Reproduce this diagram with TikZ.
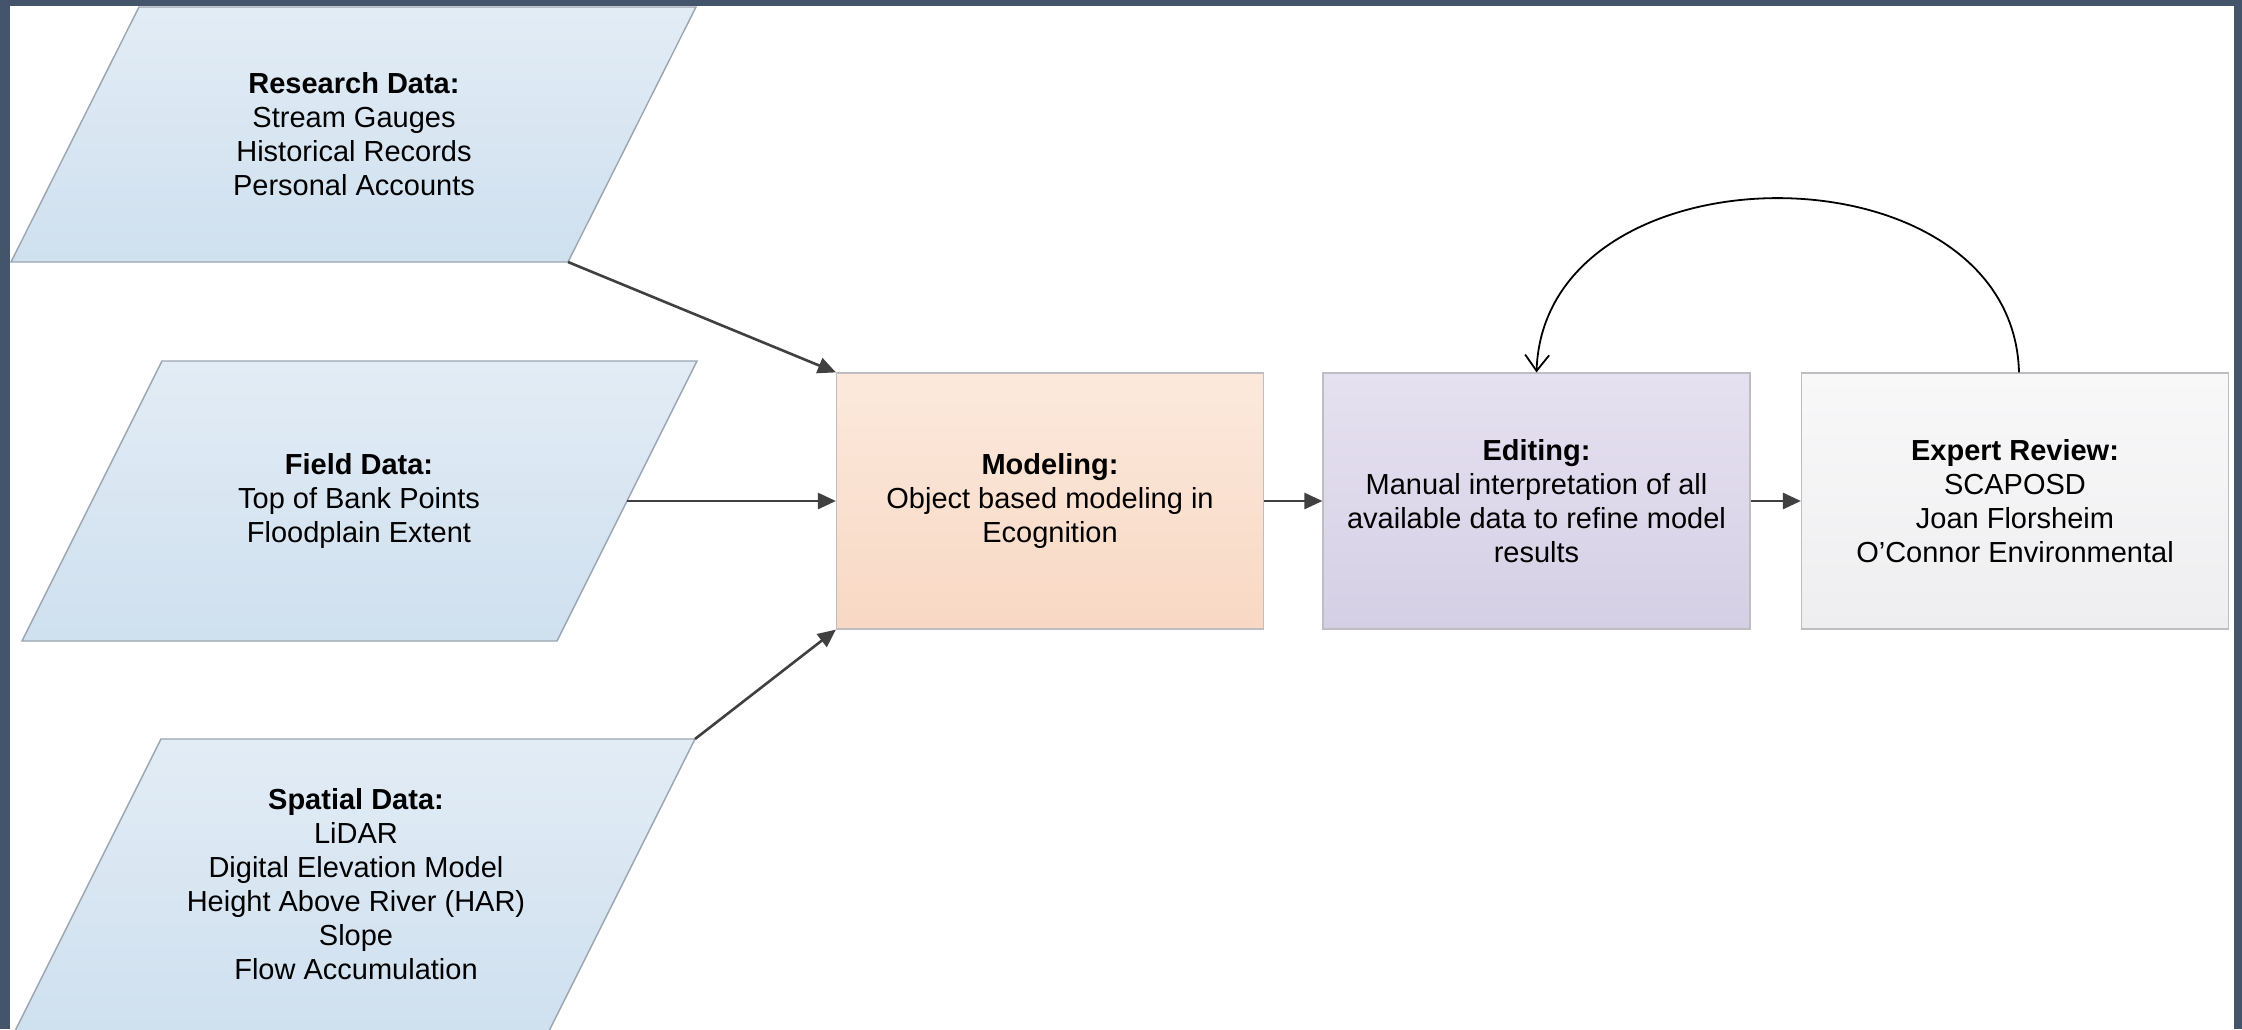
\documentclass[tikz,border=0pt]{standalone}
\usepackage{fontspec}
\setmainfont{Liberation Sans}
\usetikzlibrary{arrows.meta}
\definecolor{frameblue}{HTML}{44546A}
\definecolor{pbtop}{HTML}{E2ECF5}
\definecolor{pbbot}{HTML}{CFE0EF}
\definecolor{pbline}{HTML}{9AA5B1}
\definecolor{mtop}{HTML}{FCE9DC}
\definecolor{mbot}{HTML}{F8D8C4}
\definecolor{etop}{HTML}{E6E1F0}
\definecolor{ebot}{HTML}{D5CFE5}
\definecolor{xtop}{HTML}{F8F8F9}
\definecolor{xbot}{HTML}{EEEEF0}
\definecolor{boxline}{HTML}{BDBDC2}
\definecolor{arrgray}{HTML}{404040}
\tikzset{
  para/.style={draw=pbline, line width=0.7pt, top color=pbtop, bottom color=pbbot},
  ptext/.style={align=center, font=\fontsize{14.5}{17}\selectfont, inner sep=0pt},
  procbox/.style={draw=boxline, line width=0.6pt, minimum width=213.5pt, minimum height=128pt,
    align=center, font=\fontsize{14.5}{17}\selectfont, inner sep=4pt},
  arr/.style={draw=arrgray, line width=1.3pt, -{Triangle[length=9pt,width=8pt]}},
  fb/.style={draw=black, line width=0.9pt, -{Straight Barb[length=8pt,width=12pt]}}
}
\begin{document}
\begin{tikzpicture}[x=0.5pt,y=-0.5pt]
\useasboundingbox (0,0) rectangle (2242,1029);
\fill[white] (0,0) rectangle (2242,1029);

% parallelograms
\path[para] (139,7) -- (696,7) -- (568,262) -- (11,262) -- cycle;
\path[para] (162,361) -- (697,361) -- (557,641) -- (22,641) -- cycle;
\path[para] (161,739) -- (695,739) -- (549,1031) -- (15,1031) -- cycle;

\coordinate (resBR) at (568,262);
\coordinate (fieldR) at (627,501);
\coordinate (spaTR) at (695,739);

\node[ptext] (res) at (354,134) {\textbf{Research Data:}\\Stream Gauges\\Historical Records\\Personal Accounts};
\node[ptext] (field) at (359,501) {\textbf{Field Data:}\\Top of Bank Points\\Floodplain Extent};
\node[ptext] (spa) at (356,884) {\textbf{Spatial Data:}\\LiDAR\\Digital Elevation Model\\Height Above River (HAR)\\Slope\\Flow Accumulation};

% process boxes
\node[procbox, top color=mtop, bottom color=mbot] (model) at (1050,501)
  {\textbf{Modeling:}\\Object based modeling in\\Ecognition};
\node[procbox, top color=etop, bottom color=ebot] (edit) at (1536.5,501)
  {\textbf{Editing:}\\Manual interpretation of all\\available data to refine model\\results};
\node[procbox, top color=xtop, bottom color=xbot] (expert) at (2015,501)
  {\textbf{Expert Review:}\\SCAPOSD\\Joan Florsheim\\O'Connor Environmental};

% connectors
\draw[arr] (resBR) -- (model.north west);
\draw[arr] (fieldR) -- (model.west);
\draw[arr] (spaTR) -- (model.south west);
\draw[arr] (model.east) -- (edit.west);
\draw[arr] (edit.east) -- (expert.west);
\draw[fb] ([xshift=2pt]expert.north) .. controls +(-6,-232) and +(8,-232) .. (edit.north);

% frame
\fill[frameblue] (0,0) rectangle (2242,6);
\fill[frameblue] (0,0) rectangle (10,1029);
\fill[frameblue] (2234,0) rectangle (2242,1029);
\end{tikzpicture}
\end{document}
